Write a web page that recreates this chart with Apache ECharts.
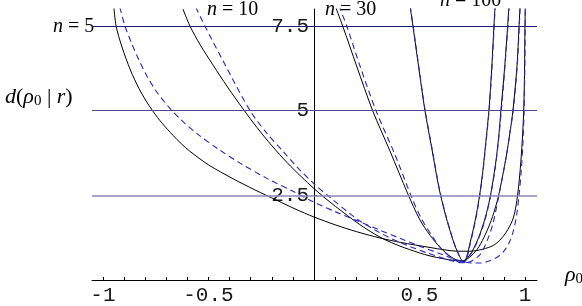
<!DOCTYPE html>
<html>
<head>
<meta charset="utf-8">
<script src="https://cdn.jsdelivr.net/npm/echarts@6/dist/echarts.min.js"></script>
<style>
  html, body { margin: 0; padding: 0; background: #fff; }
  #chart { width: 582px; height: 306px; }
</style>
</head>
<body>
<div id="chart"></div>
<script>
// tick marks and labels
const X_TICKS = [-1, -0.9, -0.8, -0.7, -0.6, -0.5, -0.4, -0.3, -0.2, -0.1, 0, 0.1, 0.2, 0.3, 0.4, 0.5, 0.6, 0.7, 0.8, 0.9, 1];
const X_LABELS = [-1, -0.5, 0.5, 1];
const Y_LABELS = [2.5, 5, 7.5];
const LEVELS = [7.5, 5, 2.5];
const LEVEL_COLORS = ["#1c1c78", "#4a4a94", "#8886b8"];
const LEVEL_WIDTHS = [1, 1.2, 1.6];

// d(rho0 | r), [rho0, d]
const N5_SOLID = [
  [-0.948, 8.05], [-0.938, 7.5], [-0.91, 6.88], [-0.87, 6.2], [-0.83, 5.66], [-0.795, 5.28],
  [-0.763, 4.98], [-0.72, 4.63], [-0.668, 4.27], [-0.63, 4.03], [-0.588, 3.8], [-0.5, 3.4],
  [-0.384, 2.99], [-0.28, 2.66], [-0.175, 2.35], [-0.09, 2.1], [0, 1.86], [0.1, 1.63],
  [0.2, 1.43], [0.313, 1.24], [0.41, 1.11], [0.55, 0.96], [0.62, 0.89], [0.68, 0.85],
  [0.74, 0.85], [0.8, 0.91], [0.85, 1.02], [0.88, 1.17], [0.91, 1.4], [0.94, 1.75],
  [0.955, 2.1], [0.967, 2.6], [0.978, 3.3], [0.987, 4.1], [0.994, 5.0], [0.998, 6.2],
  [1.0, 7.5], [1.002, 8.3]
];
const N5_DASH = [
  [-0.92, 8.05], [-0.896, 7.5], [-0.865, 7.0], [-0.83, 6.5], [-0.79, 6.0], [-0.745, 5.55],
  [-0.69, 5.12], [-0.63, 4.73], [-0.55, 4.3], [-0.45, 3.85], [-0.35, 3.45], [-0.223, 3.0],
  [-0.1, 2.62], [0, 2.3], [0.1, 2.02], [0.2, 1.76], [0.313, 1.47], [0.408, 1.23],
  [0.5, 1.0], [0.6, 0.77], [0.66, 0.63], [0.7, 0.55], [0.75, 0.5], [0.787, 0.5],
  [0.83, 0.56], [0.87, 0.68], [0.9, 0.85], [0.925, 1.1], [0.945, 1.45], [0.96, 1.9],
  [0.972, 2.5], [0.982, 3.2], [0.99, 4.0], [0.996, 5.0], [0.999, 6.2], [1.001, 7.5],
  [1.003, 8.3]
];
const N10_SOLID = [
  [-0.621, 8.0], [-0.588, 7.5], [-0.54, 6.95], [-0.479, 6.35], [-0.41, 5.7], [-0.336, 5.05],
  [-0.27, 4.5], [-0.199, 3.96], [-0.128, 3.47], [-0.06, 3.05], [0, 2.7], [0.076, 2.3],
  [0.185, 1.78], [0.25, 1.5], [0.327, 1.22], [0.408, 1.0], [0.5, 0.8], [0.55, 0.71],
  [0.611, 0.63], [0.66, 0.58], [0.7, 0.56], [0.735, 0.66], [0.773, 0.9], [0.805, 1.25],
  [0.834, 1.66], [0.858, 2.1], [0.877, 2.55], [0.91, 3.6], [0.93, 4.4], [0.943, 5.0],
  [0.962, 6.3], [0.972, 7.5], [0.978, 8.3]
];
const N10_DASH = [
  [-0.56, 8.05], [-0.517, 7.5], [-0.431, 6.47], [-0.303, 5.0], [-0.223, 4.33], [-0.147, 3.8],
  [-0.081, 3.34], [0, 2.84], [0.076, 2.44], [0.204, 1.8], [0.3, 1.44], [0.374, 1.2],
  [0.45, 1.0], [0.536, 0.8], [0.62, 0.63], [0.7, 0.51], [0.74, 0.54], [0.787, 0.75],
  [0.82, 1.15], [0.848, 1.66], [0.878, 2.55], [0.91, 3.6], [0.93, 4.4], [0.944, 5.0],
  [0.963, 6.3], [0.973, 7.5], [0.979, 8.3]
];
const N30_SOLID = [
  [0.1, 8.1], [0.136, 7.5], [0.202, 6.32], [0.278, 5.0], [0.36, 3.81], [0.445, 2.54],
  [0.5, 1.8], [0.55, 1.32], [0.6, 0.95], [0.65, 0.68], [0.7, 0.55], [0.72, 0.6],
  [0.75, 0.85], [0.78, 1.25], [0.81, 1.8], [0.835, 2.45], [0.86, 3.4], [0.875, 4.2],
  [0.886, 5.0], [0.904, 6.3], [0.918, 7.5], [0.926, 8.3]
];
const N30_DASH = [
  [0.118, 8.1], [0.155, 7.5], [0.218, 6.32], [0.294, 5.0], [0.384, 3.7], [0.463, 2.44],
  [0.51, 1.8], [0.56, 1.3], [0.6, 0.95], [0.65, 0.66], [0.7, 0.52], [0.72, 0.58],
  [0.75, 0.83], [0.78, 1.22], [0.81, 1.76], [0.836, 2.45], [0.861, 3.4], [0.876, 4.2],
  [0.888, 5.0], [0.905, 6.3], [0.919, 7.5], [0.927, 8.3]
];
const N100_SOLID = [
  [0.455, 8.1], [0.469, 7.5], [0.497, 6.25], [0.526, 5.0], [0.558, 3.9], [0.592, 2.73],
  [0.62, 2.0], [0.645, 1.45], [0.67, 0.98], [0.69, 0.7], [0.7, 0.58], [0.71, 0.53],
  [0.725, 0.72], [0.74, 1.1], [0.755, 1.5], [0.77, 1.95], [0.785, 2.5], [0.8, 3.2],
  [0.815, 4.1], [0.829, 5.0], [0.842, 6.2], [0.853, 7.5], [0.86, 8.3]
];
const N100_DASH = [
  [0.456, 8.1], [0.47, 7.5], [0.498, 6.25], [0.527, 5.0], [0.559, 3.9], [0.593, 2.73],
  [0.621, 2.0], [0.646, 1.45], [0.671, 0.97], [0.691, 0.68], [0.701, 0.56], [0.712, 0.51],
  [0.727, 0.7], [0.741, 1.08], [0.756, 1.48], [0.771, 1.93], [0.786, 2.5], [0.801, 3.2],
  [0.816, 4.1], [0.83, 5.0], [0.843, 6.2], [0.854, 7.5], [0.861, 8.3]
];

const MONO = "'Liberation Mono', 'DejaVu Sans Mono', monospace";
const SERIF = "'Liberation Serif', 'DejaVu Serif', serif";

const chart = echarts.init(document.getElementById("chart"), null, { renderer: "canvas" });

function solid(data) {
  return {
    type: "line", data, smooth: 0.3, symbol: "none", clip: true, silent: true,
    lineStyle: { color: "#000", width: 1 }, z: 3
  };
}
function dashed(data) {
  return {
    type: "line", data, smooth: 0.3, symbol: "none", clip: true, silent: true,
    lineStyle: { color: "#2626c4", width: 1.1, type: [6, 4] }, z: 4
  };
}

const levelLines = {
  type: "line", data: [], silent: true, z: 2,
  markLine: {
    silent: true, symbol: "none", animation: false,
    label: { show: false },
    data: LEVELS.map((v, i) => ({
      yAxis: v,
      lineStyle: { color: LEVEL_COLORS[i], width: LEVEL_WIDTHS[i], type: "solid" }
    }))
  }
};

const italic = { fontFamily: SERIF, fontSize: 20, fontStyle: "italic" };

chart.setOption({
  animation: false,
  backgroundColor: "#fff",
  grid: { left: 92, right: 45, top: 9, bottom: 22 },
  xAxis: {
    type: "value", min: -1.052, max: 1.057,
    axisLine: { onZero: true, lineStyle: { color: "#000", width: 1 } },
    axisTick: { show: true, inside: true, length: 3, customValues: X_TICKS, lineStyle: { color: "#000" } },
    axisLabel: {
      customValues: X_LABELS, margin: 5,
      fontFamily: MONO, fontSize: 21, color: "#1a1a1a",
      formatter: (v) => String(v)
    },
    splitLine: { show: false }
  },
  yAxis: {
    type: "value", min: 0, max: 8,
    position: "left", offset: -222,
    axisLine: { onZero: false, lineStyle: { color: "#000", width: 1 } },
    axisTick: { show: true, inside: true, length: 3, customValues: Y_LABELS, lineStyle: { color: "#000" } },
    axisLabel: {
      customValues: Y_LABELS, margin: 5,
      fontFamily: MONO, fontSize: 21, color: "#1a1a1a",
      formatter: (v) => String(v)
    },
    splitLine: { show: false }
  },
  graphic: [
    {
      type: "text", x: 5, y: 97,
      style: {
        text: "{i|d}({i|ρ}{s|0} | {i|r})",
        font: "22px " + SERIF, fill: "#000", verticalAlign: "middle",
        rich: {
          i: { fontFamily: SERIF, fontSize: 22, fontStyle: "italic" },
          s: { fontFamily: SERIF, fontSize: 15, padding: [8, 0, 0, 0] }
        }
      }
    },
    { type: "text", x: 53, y: 27, style: { text: "{i|n} = 5", font: "20px " + SERIF, fill: "#000", verticalAlign: "middle", rich: { i: italic } } },
    { type: "text", x: 207, y: 10, style: { text: "{i|n} = 10", font: "20px " + SERIF, fill: "#000", verticalAlign: "middle", rich: { i: italic } } },
    { type: "text", x: 325, y: 10, style: { text: "{i|n} = 30", font: "20px " + SERIF, fill: "#000", verticalAlign: "middle", rich: { i: italic } } },
    { type: "text", x: 440, y: 1, style: { text: "{i|n} = 100", font: "20px " + SERIF, fill: "#000", verticalAlign: "middle", rich: { i: italic } } },
    {
      type: "text", x: 565, y: 275,
      style: {
        text: "{i|ρ}{s|0}", font: "22px " + SERIF, fill: "#000", verticalAlign: "middle",
        rich: {
          i: { fontFamily: SERIF, fontSize: 22, fontStyle: "italic" },
          s: { fontFamily: SERIF, fontSize: 15, padding: [8, 0, 0, 0] }
        }
      }
    }
  ],
  series: [
    levelLines,
    solid(N5_SOLID), dashed(N5_DASH),
    solid(N10_SOLID), dashed(N10_DASH),
    solid(N30_SOLID), dashed(N30_DASH),
    solid(N100_SOLID), dashed(N100_DASH)
  ]
});
</script>
</body>
</html>
